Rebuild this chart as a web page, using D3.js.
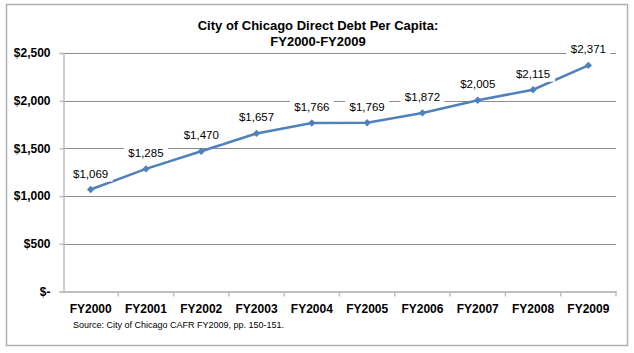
<!DOCTYPE html>
<html>
<head>
<meta charset="utf-8">
<script src="https://cdn.jsdelivr.net/npm/d3@7"></script>
<style>
  body { margin: 0; background: #fff; }
  svg { display: block; font-family: Arial, "Liberation Sans", sans-serif; }
  .axis text { font-size: 12px; font-weight: bold; fill: #000; }
  .data-label { font-size: 11.5px; fill: #000; }
</style>
</head>
<body>
<svg id="chart" width="634" height="353"></svg>
<script>
"use strict";

const years = ["FY2000", "FY2001", "FY2002", "FY2003", "FY2004",
  "FY2005", "FY2006", "FY2007", "FY2008", "FY2009"];
const debtPerCapita = [1069, 1285, 1470, 1657, 1766, 1769, 1872, 2005, 2115, 2371];
const yTicks = [0, 500, 1000, 1500, 2000, 2500];
const titleLines = ["City of Chicago Direct Debt Per Capita:", "FY2000-FY2009"];
const sourceNote = "Source: City of Chicago CAFR FY2009, pp. 150-151.";

const svg = d3.select("#chart");
const margin = { left: 63, right: 18, top: 53, bottom: 61.5 };
const width = 634, height = 353;

// outer frame
svg.append("rect")
  .attr("x", 6.5).attr("y", 4.5)
  .attr("width", 621).attr("height", 341)
  .attr("fill", "#fff")
  .attr("stroke", "#b0b0b0")
  .attr("stroke-width", 1.5);

const x = d3.scaleBand()
  .domain(years)
  .range([margin.left, width - margin.right]);

const y = d3.scaleLinear()
  .domain([0, 2500])
  .range([height - margin.bottom, margin.top]);

const fmt = d => d === 0 ? "$-" : "$" + d3.format(",")(d);

// gridlines
svg.append("g")
  .selectAll("line")
  .data(yTicks.filter(d => d > 0))
  .join("line")
  .attr("x1", margin.left)
  .attr("x2", width - margin.right)
  .attr("y1", d => Math.round(y(d)) + 0.5)
  .attr("y2", d => Math.round(y(d)) + 0.5)
  .attr("stroke", "#8c8c8c")
  .attr("stroke-width", 1);

// y axis
const yAxis = d3.axisLeft(y)
  .tickValues(yTicks)
  .tickFormat(fmt)
  .tickSize(4)
  .tickPadding(9);

const yAxisGroup = svg.append("g")
  .attr("class", "axis")
  .attr("transform", `translate(${margin.left + 0.5},0)`)
  .call(yAxis);
yAxisGroup.select(".domain").attr("stroke", "#bfbfbf").attr("stroke-width", 1.5);
yAxisGroup.selectAll(".tick line").attr("stroke", "#bfbfbf").attr("stroke-width", 1.5);

// x axis
const xAxis = d3.axisBottom(x)
  .tickSize(0)
  .tickPadding(13);

const xAxisGroup = svg.append("g")
  .attr("class", "axis")
  .attr("transform", `translate(0,${y(0)})`)
  .call(xAxis);
xAxisGroup.select(".domain").attr("stroke", "#bfbfbf").attr("stroke-width", 2);

// category boundary ticks
xAxisGroup.append("g")
  .selectAll("line")
  .data(years.slice(1).concat(["end"]))
  .join("line")
  .attr("x1", (d, i) => i < years.length - 1 ? x(d) : x.range()[1])
  .attr("x2", (d, i) => i < years.length - 1 ? x(d) : x.range()[1])
  .attr("y1", 0).attr("y2", 5)
  .attr("stroke", "#bfbfbf")
  .attr("stroke-width", 1.5);

// line
const line = d3.line()
  .x((d, i) => x(years[i]) + x.bandwidth() / 2)
  .y(d => y(d));

svg.append("path")
  .datum(debtPerCapita)
  .attr("fill", "none")
  .attr("stroke", "#4f81bd")
  .attr("stroke-width", 2.5)
  .attr("d", line);

// diamond markers
svg.append("g")
  .selectAll("path")
  .data(debtPerCapita)
  .join("path")
  .attr("d", d3.symbol(d3.symbolDiamond2, 34))
  .attr("transform", (d, i) =>
    `translate(${x(years[i]) + x.bandwidth() / 2},${y(d)})`)
  .attr("fill", "#4f81bd");

// data labels with white backgrounds
const labels = svg.append("g")
  .selectAll("g")
  .data(debtPerCapita)
  .join("g")
  .attr("transform", (d, i) =>
    `translate(${x(years[i]) + x.bandwidth() / 2},${y(d) - 16})`);

labels.append("rect")
  .attr("x", -22).attr("y", -8)
  .attr("width", 44).attr("height", 16)
  .attr("fill", "#fff");

labels.append("text")
  .attr("class", "data-label")
  .attr("text-anchor", "middle")
  .attr("dy", "0.35em")
  .text(d => fmt(d));

// title
svg.append("text")
  .attr("x", 318)
  .attr("text-anchor", "middle")
  .attr("font-size", "13px")
  .attr("font-weight", "bold")
  .selectAll("tspan")
  .data(titleLines)
  .join("tspan")
  .attr("x", 318)
  .attr("y", (d, i) => 30 + i * 16)
  .text(d => d);

// source note
svg.append("text")
  .attr("x", 73)
  .attr("y", 328)
  .attr("font-size", "9px")
  .text(sourceNote);
</script>
</body>
</html>
